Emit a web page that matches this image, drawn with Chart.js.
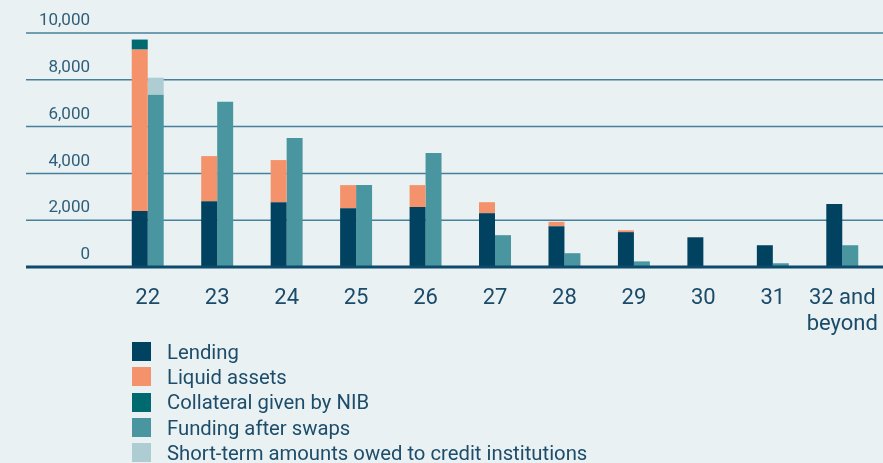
<!DOCTYPE html>
<html>
<head>
<meta charset="utf-8">
<script src="https://cdn.jsdelivr.net/npm/chart.js@4"></script>
<style>
  body { margin: 0; background: #e9f1f3; }
  #wrap { position: relative; width: 883px; height: 463px; background: #e9f1f3; overflow: hidden; }
  #legend { position: absolute; left: 132px; top: 339px; font-family: Roboto, sans-serif; font-size: 20.3px; color: #1d4d6a; }
  .item { display: flex; align-items: center; height: 25.3px; }
  .box { width: 19px; height: 19px; margin-right: 16px; }
</style>
</head>
<body>
<div id="wrap">
  <canvas id="myChart" width="883" height="463"></canvas>
  <div id="legend"></div>
</div>
<script>
// maturity buckets
var categories = ["22", "23", "24", "25", "26", "27", "28", "29", "30", "31", ["32 and", "beyond"]];

// assets side (stack a)
var lending = [2390, 2810, 2770, 2510, 2560, 2300, 1740, 1490, 1270, 930, 2690];
var liquidAssets = [6900, 1930, 1800, 990, 940, 470, 190, 80, 0, 0, 0];
var collateral = [430, 0, 0, 0, 0, 0, 0, 0, 0, 0, 0];

// liabilities side (stack b)
var funding = [7360, 7060, 5510, 3500, 4870, 1360, 590, 240, 40, 160, 930];
var shortTerm = [730, 0, 0, 0, 0, 0, 0, 0, 0, 0, 0];

var yTicks = [0, 2000, 4000, 6000, 8000, 10000];
var yTickLabels = ["0", "2,000", "4,000", "6,000", "8,000", "10,000"];

var textColor = "#1b4b69";

// grid lines run across the whole width, labels sit above each line
var gridPlugin = {
  id: "gridPlugin",
  beforeDatasetsDraw: function (chart) {
    var ctx = chart.ctx;
    var y = chart.scales.y;
    ctx.save();
    yTicks.forEach(function (v, i) {
      var py = y.getPixelForValue(v);
      if (v !== 0) {
        ctx.strokeStyle = "#47809c";
        ctx.lineWidth = 1.5;
        ctx.beginPath();
        ctx.moveTo(26, py);
        ctx.lineTo(883, py);
        ctx.stroke();
      }
      ctx.fillStyle = "#2f5f7b";
      ctx.font = "17px Roboto";
      ctx.textAlign = "right";
      ctx.textBaseline = "middle";
      ctx.fillText(yTickLabels[i], 90, py - 12);
    });
    ctx.restore();
  },
  afterDatasetsDraw: function (chart) {
    var ctx = chart.ctx;
    var py = chart.scales.y.getPixelForValue(0);
    ctx.save();
    ctx.strokeStyle = "#0d4a6b";
    ctx.lineWidth = 3;
    ctx.beginPath();
    ctx.moveTo(26, py);
    ctx.lineTo(883, py);
    ctx.stroke();
    ctx.restore();
  }
};

var ctx = document.getElementById("myChart");

var myChart = new Chart(ctx, {
  type: "bar",
  data: {
    labels: categories,
    datasets: [
      { label: "Lending", data: lending, backgroundColor: "#00425f", stack: "a" },
      { label: "Liquid assets", data: liquidAssets, backgroundColor: "#f4936b", stack: "a" },
      { label: "Collateral given by NIB", data: collateral, backgroundColor: "#006a70", stack: "a" },
      { label: "Funding after swaps", data: funding, backgroundColor: "#4a96a0", stack: "b" },
      { label: "Short-term amounts owed to credit institutions", data: shortTerm, backgroundColor: "#aecdd3", stack: "b" }
    ]
  },
  options: {
    responsive: false,
    animation: false,
    layout: { padding: { left: 113, right: 6, top: 33, bottom: 0 } },
    datasets: { bar: { categoryPercentage: 0.46, barPercentage: 1 } },
    plugins: {
      legend: { display: false },
      tooltip: { enabled: false }
    },
    scales: {
      x: {
        stacked: true,
        grid: { display: false, drawTicks: false },
        border: { display: false },
        ticks: {
          color: textColor,
          font: { family: "Roboto", size: 22, lineHeight: 1.2 },
          padding: 18,
          maxRotation: 0,
          autoSkip: false
        },
        afterFit: function (scale) {
          scale.height = 463 - 267;
          scale.paddingLeft = 0;
          scale.paddingRight = 0;
        }
      },
      y: {
        stacked: true,
        min: 0,
        max: 10000,
        ticks: { display: false, stepSize: 2000 },
        grid: { display: false, drawTicks: false },
        border: { display: false },
        afterFit: function (scale) { scale.width = 0; }
      }
    }
  },
  plugins: [gridPlugin]
});

// legend built from the datasets
var legend = document.getElementById("legend");
myChart.data.datasets.forEach(function (ds) {
  var row = document.createElement("div");
  row.className = "item";
  var box = document.createElement("span");
  box.className = "box";
  box.style.background = ds.backgroundColor;
  var txt = document.createElement("span");
  txt.textContent = ds.label;
  row.appendChild(box);
  row.appendChild(txt);
  legend.appendChild(row);
});
</script>
</body>
</html>
